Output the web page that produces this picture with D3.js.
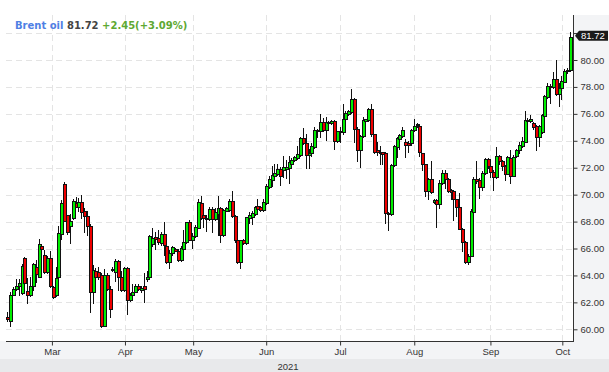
<!DOCTYPE html>
<html>
<head>
<meta charset="utf-8">
<script src="https://cdn.jsdelivr.net/npm/d3@7"></script>
<style>
  html, body { margin: 0; padding: 0; background: #fff; }
  svg { display: block; }
</style>
</head>
<body>
<div id="chart"></div>
<script>
// ---- Data (Brent oil daily candles) ----
const open = [
  60.95,60.60,62.57,63.00,63.22,62.67,65.30,62.87,62.57,63.22,64.65,63.91,66.19,65.52,64.28,65.30,63.17,62.55,63.86,67.08,
  70.79,68.49,67.67,68.27,69.41,69.10,69.48,68.76,68.42,67.70,62.80,64.30,64.23,64.03,60.25,64.03,63.00,64.40,64.26,65.10,
  63.91,62.95,64.55,62.18,62.57,62.80,63.24,62.90,63.20,63.70,63.90,66.30,66.82,66.77,66.40,67.06,66.20,64.98,65.70,65.96,
  65.84,65.15,65.96,66.45,67.94,66.65,66.90,67.55,69.40,68.50,68.30,68.20,68.90,68.17,68.60,68.98,66.97,68.80,68.85,69.52,
  68.44,66.60,64.98,66.60,66.40,68.24,68.37,68.56,69.15,69.05,68.85,69.40,70.57,71.10,71.35,71.55,71.92,71.80,71.90,71.97,
  72.30,72.57,72.72,72.96,74.20,73.80,72.96,73.13,73.56,74.80,74.74,75.36,74.80,75.40,75.30,75.48,73.95,74.74,74.62,75.60,
  76.00,76.17,77.09,74.86,73.30,74.37,75.50,75.53,76.35,74.50,73.30,73.20,73.14,73.06,68.62,68.57,72.20,73.56,74.12,74.37,
  73.88,73.85,73.80,74.80,75.20,75.10,73.06,72.27,70.30,71.16,69.45,69.60,69.27,70.87,71.60,71.17,70.33,70.26,69.64,69.10,
  67.48,66.50,64.98,65.47,68.70,71.17,71.10,70.58,71.60,72.64,72.15,71.66,71.30,72.88,72.47,72.15,71.56,72.70,71.40,72.88,
  73.28,73.60,73.94,75.50,75.50,75.34,75.10,74.26,74.67,75.83,77.25,78.00,78.00,78.60,77.50,77.94,78.40,79.17,79.27
];
const high = [
  61.25,62.75,63.17,63.70,63.70,64.85,65.40,63.81,63.86,64.90,65.15,66.70,66.34,65.90,65.47,65.84,63.24,64.65,67.70,69.60,
  70.97,68.50,68.56,69.70,69.85,69.75,70.00,69.00,68.80,67.82,64.80,64.53,64.60,64.16,64.48,64.16,63.20,64.60,65.22,65.15,
  64.35,64.65,64.60,62.70,63.36,63.36,63.36,63.20,64.20,64.30,67.00,67.50,67.20,67.40,67.26,68.00,66.35,65.86,66.20,66.05,
  65.96,66.20,67.40,68.00,68.10,67.14,67.75,69.64,69.90,68.60,68.50,69.10,69.05,69.00,69.90,69.05,68.95,69.05,69.64,70.27,
  68.49,67.26,66.65,66.70,68.37,68.73,68.80,69.15,69.64,69.15,69.64,70.76,71.35,72.10,72.24,72.30,72.04,72.90,72.58,72.90,
  72.70,72.85,73.63,74.30,74.94,74.50,73.40,73.87,75.00,74.85,75.98,75.70,75.78,75.50,75.53,75.53,74.75,75.05,76.70,76.22,
  76.30,77.83,77.20,74.99,74.44,75.78,75.65,76.47,76.70,74.54,73.88,73.63,73.20,73.14,68.70,72.27,73.70,74.30,74.50,75.00,
  74.12,74.00,74.90,75.60,75.30,75.20,73.10,72.30,71.20,72.52,69.70,69.70,71.10,71.80,71.85,71.24,70.43,70.38,69.70,70.10,
  67.55,66.55,65.60,68.96,71.30,72.47,71.20,71.73,72.70,72.70,72.22,71.85,73.57,72.95,72.60,72.22,72.85,73.30,72.95,73.38,
  73.94,74.30,76.20,75.70,75.90,75.40,75.20,75.20,75.98,77.40,78.29,78.25,79.10,80.00,78.29,78.84,79.36,79.40,82.10
];
const low = [
  60.60,60.22,62.55,62.95,62.57,62.62,63.37,61.95,62.50,62.90,63.50,63.86,65.84,64.18,64.18,63.15,62.33,62.50,63.81,66.70,
  68.02,67.08,66.39,68.20,69.06,68.80,68.30,67.20,67.03,61.26,61.95,63.74,63.74,60.17,60.22,62.90,60.90,64.30,63.60,62.95,
  62.87,62.87,61.14,62.10,62.50,62.75,62.90,62.80,62.00,63.60,63.83,66.20,66.00,66.35,66.28,65.50,64.93,64.56,65.55,65.80,
  65.10,65.10,65.86,66.40,66.60,66.03,66.85,67.50,68.20,67.60,67.33,68.12,67.26,68.12,67.00,66.50,66.92,68.75,68.80,68.37,
  66.52,64.93,64.56,66.30,66.35,67.92,67.80,68.49,68.85,68.80,68.80,69.34,70.52,70.62,71.30,71.43,70.70,71.30,71.25,70.90,
  72.27,72.50,72.65,72.90,73.75,71.97,72.00,72.90,73.50,74.30,74.25,74.74,74.05,75.25,75.25,73.40,73.88,73.88,74.54,75.53,
  75.90,76.10,73.88,72.50,72.02,74.30,75.40,75.48,74.37,73.06,72.96,72.30,72.27,67.90,67.38,68.52,72.15,72.80,73.38,74.30,
  72.77,73.20,73.70,74.70,75.00,72.90,71.80,69.90,69.70,70.10,69.35,67.63,69.03,70.80,70.50,70.20,69.64,68.12,68.40,67.43,
  65.84,64.93,64.86,65.42,68.65,70.87,69.77,70.38,71.55,71.95,71.30,70.38,71.25,72.25,71.85,71.10,71.50,70.87,71.35,72.83,
  73.10,73.55,73.88,74.90,75.40,74.90,73.33,73.60,74.60,75.75,77.20,76.82,77.90,77.40,76.60,77.14,78.33,79.05,79.20
];
const close = [
  60.75,62.57,63.00,63.24,63.44,64.73,63.42,62.57,63.22,64.85,64.08,66.34,65.94,64.23,65.30,63.20,62.38,63.81,67.15,69.41,
  68.07,67.20,68.07,69.53,69.10,69.48,68.70,68.40,67.70,62.80,64.40,63.90,63.90,60.22,64.03,63.00,61.50,64.50,65.10,63.91,
  62.95,64.55,62.18,62.57,62.80,63.24,63.00,63.10,63.00,63.90,66.94,66.77,66.70,66.45,67.06,66.28,64.98,65.70,66.08,65.84,
  65.15,66.03,66.45,67.94,66.65,66.94,67.60,69.44,68.24,68.24,68.17,68.93,68.17,68.73,68.98,66.97,68.85,68.98,69.52,68.44,
  66.60,64.98,66.60,66.40,68.31,68.49,68.66,69.05,68.93,68.85,69.46,70.62,71.18,71.43,71.60,71.92,71.35,72.04,72.09,72.40,
  72.57,72.77,73.00,74.20,73.80,72.96,73.13,73.60,74.80,74.70,75.36,74.80,75.40,75.30,75.48,73.95,74.70,74.62,75.60,76.10,
  76.20,77.09,74.86,73.30,74.37,75.53,75.60,76.35,74.50,73.14,73.14,73.06,73.00,68.62,68.60,72.22,73.63,74.20,74.42,74.79,
  73.70,73.70,74.80,75.10,75.23,73.14,72.27,70.30,71.16,70.17,69.60,69.27,70.87,71.60,71.17,70.26,70.18,69.64,69.10,67.48,
  66.50,64.98,65.47,68.78,71.17,71.00,70.58,71.60,72.64,72.10,71.66,71.30,72.88,72.47,72.10,71.56,72.79,71.40,72.83,73.28,
  73.70,74.00,75.53,75.58,75.63,75.04,74.26,75.10,75.90,77.30,78.04,78.10,78.60,77.50,77.94,78.43,79.20,79.27,81.72
];
const monthLabels = ["Mar","Apr","May","Jun","Jul","Aug","Sep","Oct"];
const monthIndex  = [15.7, 41.4, 65.4, 91.1, 117.1, 143.2, 170.0, 195.3];
const yTicks = [60,62,64,66,68,70,72,74,76,78,80,82];
const yearLabel = "2021";
const instrument = "Brent oil";
const lastPrice = 81.72;
const change = "+2.45(+3.09%)";

// ---- Layout ----
const W = 609, H = 372;
const plotL = 6, plotR = 573, plotT = 15, plotB = 341;
const N = close.length;

const svg = d3.select("#chart").append("svg").attr("width", W).attr("height", H);

const x = d3.scaleLinear().domain([0, N - 1]).range([7.3, 570]);
const y = d3.scaleLinear().domain([60, 80]).range([329.3, 60]);

// panels
svg.append("rect").attr("x", plotR).attr("y", plotT).attr("width", W - plotR).attr("height", plotB - plotT).attr("fill", "#f3f4f6");
svg.append("rect").attr("x", 0).attr("y", plotB).attr("width", W).attr("height", H - plotB).attr("fill", "#f3f4f6");
svg.append("rect").attr("x", 0).attr("y", 359).attr("width", W).attr("height", H - 359).attr("fill", "#e8e9eb");

// grid
const grid = svg.append("g").attr("stroke", "#e4e4e4").attr("stroke-width", 1).attr("stroke-dasharray", "6,4");
grid.selectAll("line.h").data(yTicks).join("line")
  .attr("x1", plotL).attr("x2", plotR)
  .attr("y1", d => Math.round(y(d)) + 0.5).attr("y2", d => Math.round(y(d)) + 0.5);
grid.selectAll("line.v").data(monthIndex).join("line")
  .attr("y1", plotT).attr("y2", plotB)
  .attr("x1", d => Math.round(x(d)) + 0.5).attr("x2", d => Math.round(x(d)) + 0.5);

// candles
const idx = d3.range(N);
const cg = svg.append("g");
cg.selectAll("line.wick").data(idx).join("line")
  .attr("x1", i => Math.round(x(i)) + 0.5).attr("x2", i => Math.round(x(i)) + 0.5)
  .attr("y1", i => Math.round(y(high[i]))).attr("y2", i => Math.round(y(low[i])) + 1)
  .attr("stroke", "#111").attr("stroke-width", 1);
cg.selectAll("rect.body").data(idx).join("rect")
  .attr("x", i => Math.round(x(i)) - 0.5)
  .attr("width", 3)
  .attr("y", i => Math.round(y(Math.max(open[i], close[i]))) + 0.5)
  .attr("height", i => Math.max(1, Math.round(y(Math.min(open[i], close[i]))) - Math.round(y(Math.max(open[i], close[i])))))
  .attr("fill", i => close[i] >= open[i] ? "#00ee00" : "#ee0000")
  .attr("stroke", "#111").attr("stroke-width", 1);

// axes
const font = "'Liberation Sans', Arial, sans-serif";
const yAxis = svg.append("g").attr("transform", `translate(${plotR + 0.5},0)`)
  .call(d3.axisRight(y).tickValues(yTicks).tickFormat(d3.format(".2f")).tickSize(4).tickPadding(3));
yAxis.select(".domain").remove();
yAxis.selectAll("text").attr("font-family", font).attr("font-size", 9.5).attr("fill", "#333");
yAxis.selectAll("line").attr("stroke", "#333");

const xAxis = svg.append("g").attr("transform", `translate(0,${plotB + 0.5})`)
  .call(d3.axisBottom(x).tickValues(monthIndex).tickFormat((d, i) => monthLabels[i]).tickSize(4).tickPadding(3));
xAxis.select(".domain").remove();
xAxis.selectAll("text").attr("font-family", font).attr("font-size", 9.5).attr("fill", "#333");
xAxis.selectAll("line").attr("stroke", "#333");

svg.append("line").attr("x1", plotR + 0.5).attr("x2", plotR + 0.5).attr("y1", plotT).attr("y2", plotB + 1).attr("stroke", "#333");
svg.append("line").attr("x1", plotL).attr("x2", plotR + 1).attr("y1", plotB + 0.5).attr("y2", plotB + 0.5).attr("stroke", "#333");

svg.append("text").attr("x", 288).attr("y", 370).attr("text-anchor", "middle")
  .attr("font-family", font).attr("font-size", 9.5).attr("fill", "#333").text(yearLabel);

// last price marker
const py = y(lastPrice) - 1;
svg.append("path")
  .attr("d", `M${plotR + 2},${py} L${plotR + 6},${py - 5} L${W - 1},${py - 5} L${W - 1},${py + 5} L${plotR + 6},${py + 5} Z`)
  .attr("fill", "#1a1a1a");
svg.append("text").attr("x", plotR + 8).attr("y", py).attr("dy", "0.35em")
  .attr("font-family", font).attr("font-size", 9.5).attr("fill", "#fff").text(d3.format(".2f")(lastPrice));

// title
const t = svg.append("text").attr("x", 15).attr("y", 29)
  .attr("font-family", "'DejaVu Sans', Verdana, sans-serif").attr("font-size", 10).attr("font-weight", "bold");
t.append("tspan").attr("fill", "#4f7fe4").text(instrument + " ");
t.append("tspan").attr("fill", "#444").text(d3.format(".2f")(lastPrice) + " ");
t.append("tspan").attr("fill", "#5ea832").text(change);
</script>
</body>
</html>
